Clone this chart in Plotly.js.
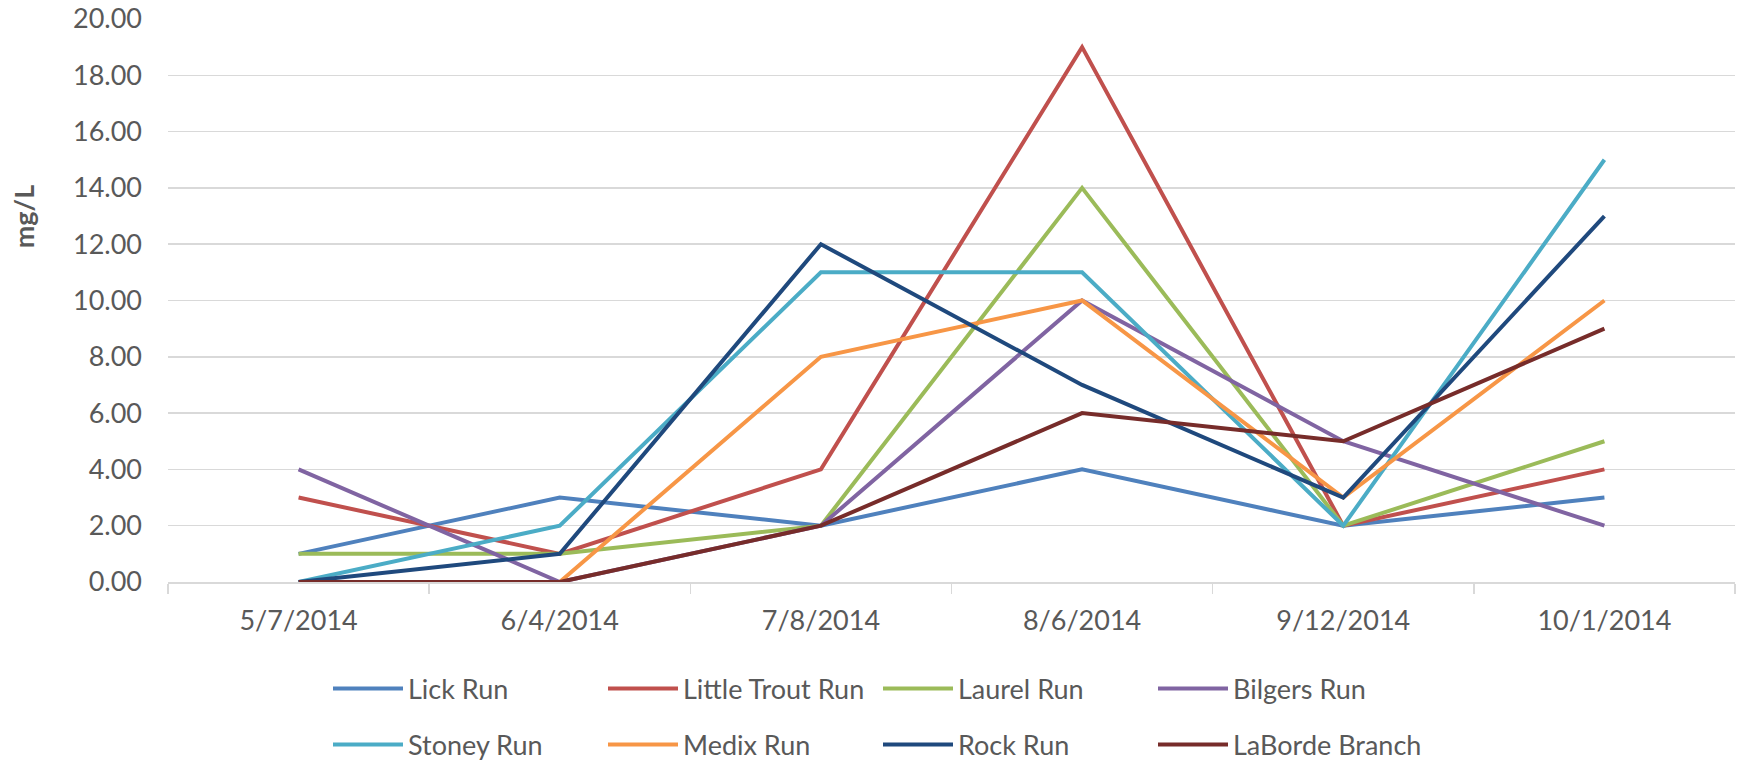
<!DOCTYPE html>
<html>
<head>
<meta charset="utf-8">
<script src="https://cdn.plot.ly/plotly-3.0.1.min.js"></script>
<style>html,body{margin:0;padding:0;background:#fff;}#chart{width:1740px;height:760px;}</style>
</head>
<body>
<div id="chart"></div>
<script>
const dates = ["5/7/2014", "6/4/2014", "7/8/2014", "8/6/2014", "9/12/2014", "10/1/2014"];
const seriesNames = ["Lick Run", "Little Trout Run", "Laurel Run", "Bilgers Run", "Stoney Run", "Medix Run", "Rock Run", "LaBorde Branch"];
const lickRun = [1, 3, 2, 4, 2, 3];
const littleTroutRun = [3, 1, 4, 19, 2, 4];
const laurelRun = [1, 1, 2, 14, 2, 5];
const bilgersRun = [4, 0, 2, 10, 5, 2];
const stoneyRun = [0, 2, 11, 11, 2, 15];
const medixRun = [null, 0, 8, 10, 3, 10];
const rockRun = [0, 1, 12, 7, 3, 13];
const labordeBranch = [0, 0, 2, 6, 5, 9];
const yTicks = [0, 2, 4, 6, 8, 10, 12, 14, 16, 18, 20];
const yTickText = yTicks.map(v => v.toFixed(2));

const seriesValues = [lickRun, littleTroutRun, laurelRun, bilgersRun, stoneyRun, medixRun, rockRun, labordeBranch];
const colors = ["#4F81BD", "#C0504D", "#9BBB59", "#8064A2", "#4BACC6", "#F79646", "#1F497D", "#772C2A"];

const FONT = "Lato, 'Open Sans', sans-serif";
const TEXT = "#595959";

const traces = seriesValues.map((vals, i) => ({
  type: "scatter",
  mode: "lines",
  x: dates,
  y: vals,
  name: seriesNames[i],
  line: {color: colors[i], width: 4},
  legend: i < 4 ? "legend" : "legend2",
  hoverinfo: "x+y+name"
}));

const legendCommon = {
  orientation: "h",
  xref: "container",
  yref: "container",
  x: 328 / 1740,
  xanchor: "left",
  yanchor: "middle",
  font: {family: FONT, size: 27, color: TEXT},
  entrywidth: 190,
  entrywidthmode: "pixels",
  itemwidth: 70,
  bgcolor: "rgba(0,0,0,0)",
  borderwidth: 0
};

const layout = {
  width: 1740,
  height: 760,
  margin: {l: 168, r: 5, t: 18.5, b: 178},
  paper_bgcolor: "#ffffff",
  plot_bgcolor: "#ffffff",
  font: {family: FONT, size: 27, color: TEXT},
  showlegend: true,
  legend: Object.assign({}, legendCommon, {y: 1 - 689 / 760}),
  legend2: Object.assign({}, legendCommon, {y: 1 - 745 / 760}),
  xaxis: {
    type: "category",
    categoryorder: "array",
    categoryarray: dates,
    range: [-0.5, dates.length - 0.5],
    tickson: "boundaries",
    ticks: "outside",
    ticklen: 10,
    tickwidth: 1.5,
    tickcolor: "#D9D9D9",
    showline: true,
    linecolor: "#D9D9D9",
    linewidth: 1.5,
    showgrid: false,
    zeroline: false,
    tickfont: {family: FONT, size: 27, color: TEXT},
    ticklabelstandoff: 14,
    fixedrange: true
  },
  yaxis: {
    range: [0, 20],
    tickmode: "array",
    tickvals: yTicks,
    ticktext: yTickText,
    showgrid: true,
    gridcolor: "#D9D9D9",
    gridwidth: 1.5,
    zeroline: false,
    showline: false,
    ticks: "",
    tickfont: {family: FONT, size: 27, color: TEXT},
    ticklabelstandoff: 25,
    fixedrange: true
  },
  annotations: [{
    text: "<b>mg/L</b>",
    xref: "paper",
    yref: "paper",
    x: (23 - 168) / 1567,
    y: 1 - (217 - 18.5) / 563.5,
    xanchor: "center",
    yanchor: "middle",
    textangle: -90,
    showarrow: false,
    font: {family: FONT, size: 27, color: TEXT}
  }]
};

Plotly.newPlot("chart", traces, layout, {displayModeBar: false, staticPlot: true});
</script>
</body>
</html>
